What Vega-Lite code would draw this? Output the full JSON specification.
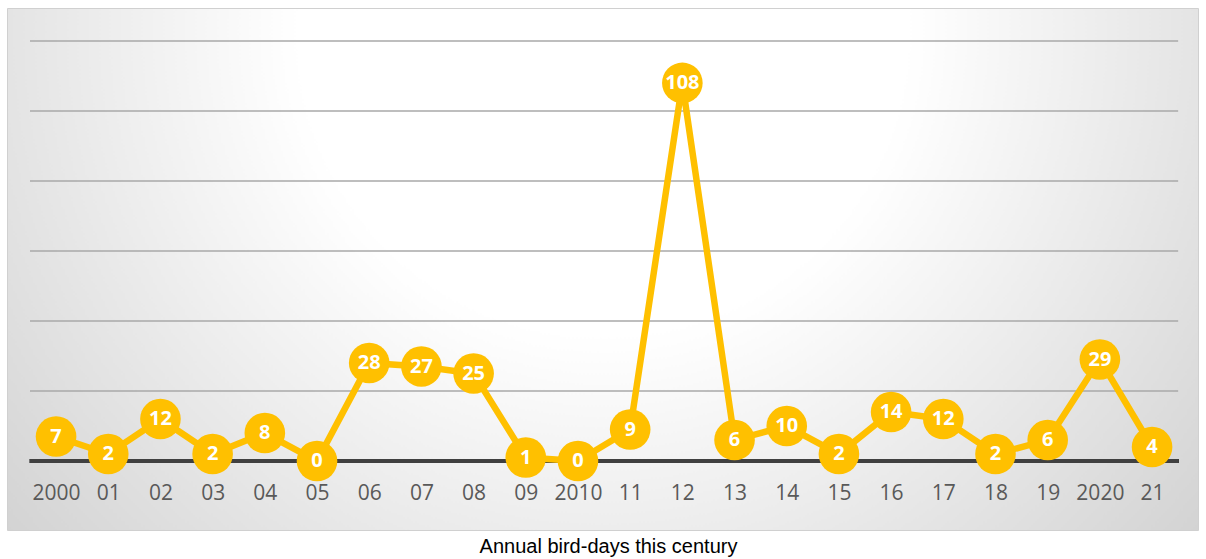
{
  "$schema": "https://vega.github.io/schema/vega-lite/v6.json",
  "autosize": "none",
  "width": 1191,
  "height": 522,
  "padding": {"left": 7, "top": 8, "right": 8, "bottom": 29},
  "background": "#ffffff",
  "config": {
    "view": {
      "stroke": "#d0d0d0",
      "strokeWidth": 1,
      "fill": {
        "gradient": "radial",
        "x1": 0.5, "y1": 0.3, "r1": 0,
        "x2": 0.5, "y2": 0.3, "r2": 0.85,
        "stops": [
          {"offset": 0, "color": "#ffffff"},
          {"offset": 0.3, "color": "#ffffff"},
          {"offset": 1, "color": "#bdbdbd"}
        ]
      }
    }
  },
  "title": {
    "text": "Annual bird-days this century",
    "orient": "bottom",
    "anchor": "middle",
    "offset": 7,
    "dx": 6,
    "font": "Liberation Sans",
    "fontSize": 20,
    "fontWeight": "normal",
    "color": "#000000"
  },
  "datasets": {
    "days": [
      {"i": 0, "year": "2000", "value": 7},
      {"i": 1, "year": "01", "value": 2},
      {"i": 2, "year": "02", "value": 12},
      {"i": 3, "year": "03", "value": 2},
      {"i": 4, "year": "04", "value": 8},
      {"i": 5, "year": "05", "value": 0},
      {"i": 6, "year": "06", "value": 28},
      {"i": 7, "year": "07", "value": 27},
      {"i": 8, "year": "08", "value": 25},
      {"i": 9, "year": "09", "value": 1},
      {"i": 10, "year": "2010", "value": 0},
      {"i": 11, "year": "11", "value": 9},
      {"i": 12, "year": "12", "value": 108},
      {"i": 13, "year": "13", "value": 6},
      {"i": 14, "year": "14", "value": 10},
      {"i": 15, "year": "15", "value": 2},
      {"i": 16, "year": "16", "value": 14},
      {"i": 17, "year": "17", "value": 12},
      {"i": 18, "year": "18", "value": 2},
      {"i": 19, "year": "19", "value": 6},
      {"i": 20, "year": "2020", "value": 29},
      {"i": 21, "year": "21", "value": 4}
    ],
    "grid": [
      {"g": 20}, {"g": 40}, {"g": 60}, {"g": 80}, {"g": 100}, {"g": 120}
    ]
  },
  "data": {"name": "days"},
  "layer": [
    {
      "data": {"name": "grid"},
      "mark": {"type": "rule", "stroke": "#a9a9a9", "strokeWidth": 1.5},
      "encoding": {
        "x": {"datum": -0.5, "type": "quantitative",
          "scale": {"domain": [-0.94, 21.88], "nice": false, "zero": false},
          "axis": {
            "values": [0,1,2,3,4,5,6,7,8,9,10,11,12,13,14,15,16,17,18,19,20,21],
            "labelExpr": "['2000','01','02','03','04','05','06','07','08','09','2010','11','12','13','14','15','16','17','18','19','2020','21'][datum.value]",
            "title": null,
            "domain": false,
            "ticks": false,
            "grid": false,
            "orient": "bottom",
            "offset": -48,
            "labelPadding": 0,
            "labelFont": "Open Sans",
            "labelFontSize": 21,
            "labelColor": "#595959",
            "labelFlush": false,
            "labelOverlap": false
          }
        },
        "x2": {"datum": 21.5},
        "y": {"field": "g", "type": "quantitative",
          "scale": {"domain": [-19.7, 129.4], "nice": false, "zero": false},
          "axis": null
        }
      }
    },
    {
      "mark": {"type": "rule", "stroke": "#404040", "strokeWidth": 4},
      "encoding": {
        "x": {"datum": -0.5, "type": "quantitative"},
        "x2": {"datum": 21.5},
        "y": {"datum": 0, "type": "quantitative"}
      }
    },
    {
      "mark": {"type": "line", "color": "#FFC000", "strokeWidth": 6.5},
      "encoding": {
        "x": {"field": "i", "type": "quantitative"},
        "y": {"field": "value", "type": "quantitative"}
      }
    },
    {
      "mark": {"type": "circle", "color": "#FFC000", "opacity": 1, "size": 1650},
      "encoding": {
        "x": {"field": "i", "type": "quantitative"},
        "y": {"field": "value", "type": "quantitative"}
      }
    },
    {
      "mark": {"type": "text", "color": "#ffffff", "font": "Open Sans", "fontWeight": "bold", "fontSize": 20, "baseline": "middle", "align": "center", "dy": 0},
      "encoding": {
        "x": {"field": "i", "type": "quantitative"},
        "y": {"field": "value", "type": "quantitative"},
        "text": {"field": "value", "type": "quantitative"}
      }
    }
  ]
}
